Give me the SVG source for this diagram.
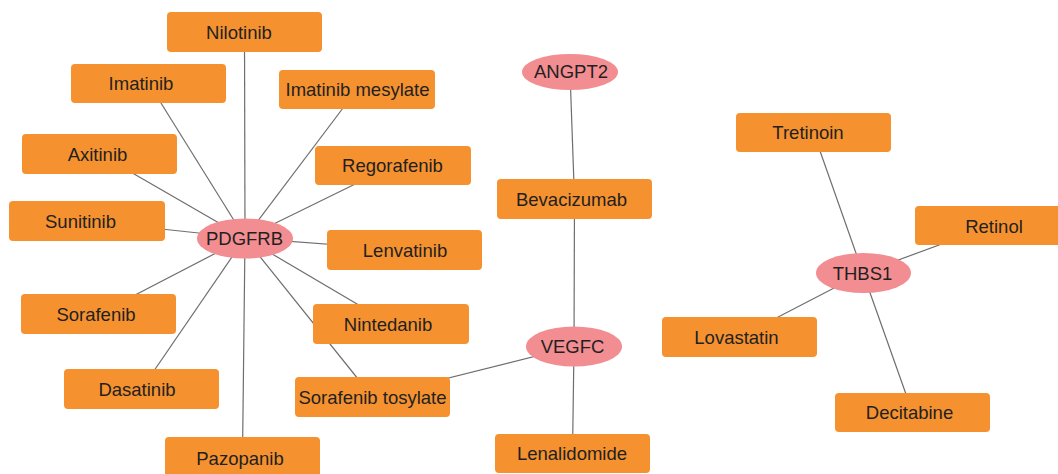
<svg xmlns="http://www.w3.org/2000/svg" width="1058" height="474" viewBox="0 0 1058 474">
<style>
.box{fill:#F5922F}
.ell{fill:#F28D92}
text{font-family:"Liberation Sans",Arial,sans-serif;font-size:18.5px;fill:#231F20;text-anchor:middle}
.e line{stroke:#6E6E6E;stroke-width:1.2}
</style>
<rect width="1058" height="474" fill="#FFFFFF"/>
<g class="e" id="connectors">
<line x1="245" y1="238" x2="244.5" y2="32"/>
<line x1="245" y1="238" x2="148.5" y2="83"/>
<line x1="245" y1="238" x2="357" y2="89.5"/>
<line x1="245" y1="238" x2="99.5" y2="154"/>
<line x1="245" y1="238" x2="393" y2="165.5"/>
<line x1="245" y1="238" x2="87" y2="221"/>
<line x1="245" y1="238" x2="404.5" y2="250"/>
<line x1="245" y1="238" x2="98.5" y2="314"/>
<line x1="245" y1="238" x2="391" y2="324"/>
<line x1="245" y1="238" x2="372.5" y2="397"/>
<line x1="245" y1="238" x2="141.5" y2="389"/>
<line x1="245" y1="238" x2="242.5" y2="457"/>
<line x1="570" y1="72" x2="574.5" y2="199"/>
<line x1="574.5" y1="199" x2="574" y2="346.5"/>
<line x1="574" y1="346.5" x2="372.5" y2="397"/>
<line x1="574" y1="346.5" x2="572.5" y2="454"/>
<line x1="863" y1="273" x2="813.5" y2="132.5"/>
<line x1="863" y1="273" x2="992" y2="225.5"/>
<line x1="863" y1="273" x2="739.5" y2="337"/>
<line x1="863" y1="273" x2="912.5" y2="412.5"/>
</g>
<g id="n-nilotinib"><rect class="box" x="167" y="12" width="155" height="40" rx="4"/><text x="239" y="39">Nilotinib</text></g>
<g id="n-imatinib"><rect class="box" x="71" y="64" width="155" height="39" rx="4"/><text x="141" y="90">Imatinib</text></g>
<g id="n-imatinib-mesylate"><rect class="box" x="279" y="70" width="156" height="39" rx="4"/><text x="357.5" y="96">Imatinib mesylate</text></g>
<g id="n-axitinib"><rect class="box" x="22" y="134" width="155" height="40" rx="4"/><text x="97.5" y="161">Axitinib</text></g>
<g id="n-regorafenib"><rect class="box" x="315" y="146" width="156" height="39" rx="4"/><text x="392.5" y="172">Regorafenib</text></g>
<g id="n-sunitinib"><rect class="box" x="9" y="201" width="156" height="40" rx="4"/><text x="80.5" y="228">Sunitinib</text></g>
<g id="n-lenvatinib"><rect class="box" x="327" y="230" width="155" height="40" rx="4"/><text x="405" y="257">Lenvatinib</text></g>
<g id="n-sorafenib"><rect class="box" x="21" y="294" width="155" height="40" rx="4"/><text x="96" y="321">Sorafenib</text></g>
<g id="n-nintedanib"><rect class="box" x="313" y="304" width="156" height="40" rx="4"/><text x="388" y="331">Nintedanib</text></g>
<g id="n-dasatinib"><rect class="box" x="64" y="369" width="155" height="40" rx="4"/><text x="137" y="396">Dasatinib</text></g>
<g id="n-sorafenib-tosylate"><rect class="box" x="295" y="377" width="155" height="40" rx="4"/><text x="372.5" y="404">Sorafenib tosylate</text></g>
<g id="n-pazopanib"><rect class="box" x="165" y="437" width="155" height="40" rx="4"/><text x="240" y="465">Pazopanib</text></g>
<g id="n-pdgfrb"><ellipse class="ell" cx="245" cy="238.5" rx="48" ry="20"/><text x="244.5" y="245">PDGFRB</text></g>
<g id="n-angpt2"><ellipse class="ell" cx="570" cy="72" rx="48" ry="18"/><text x="571" y="78">ANGPT2</text></g>
<g id="n-bevacizumab"><rect class="box" x="497" y="179" width="155" height="40" rx="4"/><text x="571.5" y="206">Bevacizumab</text></g>
<g id="n-vegfc"><ellipse class="ell" cx="574" cy="346.5" rx="48" ry="20"/><text x="572.5" y="353">VEGFC</text></g>
<g id="n-lenalidomide"><rect class="box" x="495" y="434" width="155" height="39" rx="4"/><text x="572" y="460">Lenalidomide</text></g>
<g id="n-tretinoin"><rect class="box" x="736" y="113" width="155" height="39" rx="4"/><text x="808" y="139">Tretinoin</text></g>
<g id="n-retinol"><rect class="box" x="915" y="206" width="155" height="39" rx="4"/><text x="994" y="233">Retinol</text></g>
<g id="n-thbs1"><ellipse class="ell" cx="863.5" cy="273" rx="47.5" ry="20"/><text x="862.5" y="280">THBS1</text></g>
<g id="n-lovastatin"><rect class="box" x="662" y="317" width="155" height="40" rx="4"/><text x="736.5" y="344">Lovastatin</text></g>
<g id="n-decitabine"><rect class="box" x="835" y="393" width="155" height="39" rx="4"/><text x="909.5" y="419">Decitabine</text></g>
</svg>
